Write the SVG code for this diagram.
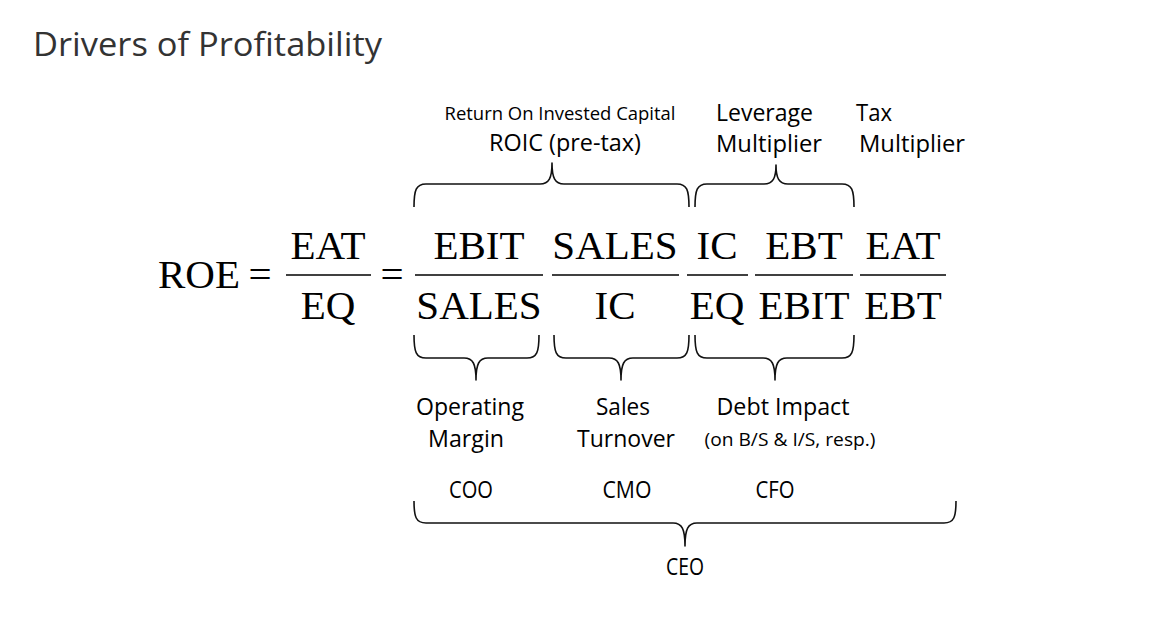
<svg xmlns="http://www.w3.org/2000/svg" width="1161" height="621" viewBox="0 0 1161 621">
  <style>
    .title { font-family: "Open Sans", "Noto Sans", sans-serif; font-size: 32px; fill: #333; }
    .math { font-family: "Liberation Serif", "Times New Roman", serif; font-size: 41px; fill: #000; text-anchor: middle; }
    .lbl { font-family: "Open Sans", "Noto Sans", sans-serif; font-size: 23px; fill: #000; }
    .sm { font-family: "Open Sans", "Noto Sans", sans-serif; font-size: 18px; fill: #000; }
    .mid { text-anchor: middle; }
    .bar { stroke: #000; stroke-width: 1.6; fill: none; }
    .brace { stroke: #111; stroke-width: 1.6; fill: none; stroke-linejoin: round; }
  </style>
  <rect width="1161" height="621" fill="#fff"/>

  <text class="title" x="33" y="56" textLength="349" lengthAdjust="spacingAndGlyphs">Drivers of Profitability</text>

  <!-- equation -->
  <g id="equation">
    <text class="math" x="199" y="288">ROE</text>
    <text class="math" x="260" y="288">=</text>
    <g id="frac-eat-eq">
      <text class="math" x="328" y="259">EAT</text>
      <line class="bar" x1="286" y1="275" x2="371" y2="275"/>
      <text class="math" x="328" y="319">EQ</text>
    </g>
    <text class="math" x="392" y="288">=</text>
    <g id="frac-ebit-sales">
      <text class="math" x="479" y="259">EBIT</text>
      <line class="bar" x1="415" y1="275" x2="543" y2="275"/>
      <text class="math" x="479" y="319">SALES</text>
    </g>
    <g id="frac-sales-ic">
      <text class="math" x="615" y="259">SALES</text>
      <line class="bar" x1="552" y1="275" x2="679" y2="275"/>
      <text class="math" x="615" y="319">IC</text>
    </g>
    <g id="frac-ic-eq">
      <text class="math" x="717" y="259">IC</text>
      <line class="bar" x1="687" y1="275" x2="748" y2="275"/>
      <text class="math" x="717" y="319">EQ</text>
    </g>
    <g id="frac-ebt-ebit">
      <text class="math" x="804" y="259">EBT</text>
      <line class="bar" x1="755" y1="275" x2="853" y2="275"/>
      <text class="math" x="804" y="319">EBIT</text>
    </g>
    <g id="frac-eat-ebt">
      <text class="math" x="903" y="259">EAT</text>
      <line class="bar" x1="860" y1="275" x2="946" y2="275"/>
      <text class="math" x="903" y="319">EBT</text>
    </g>
  </g>

  <!-- braces -->
  <g id="connectors">
    <path class="brace" d="M414,207 C414,190 416,184 426,184 H540 C549,184 552,178 552,163 C552,178 555,184 564,184 H677 C687,184 689,190 689,207"/>
    <path class="brace" d="M695,207 C695,190 697,184 707,184 H764 C773,184 776,178 776,165 C776,178 779,184 788,184 H842 C852,184 854,190 854,207"/>
    <path class="brace" d="M414,335 C414,352 416,358 426,358 H464 C473,358 476,364 476,380 C476,364 479,358 488,358 H527 C537,358 539,352 539,335"/>
    <path class="brace" d="M554,335 C554,352 556,358 566,358 H609 C618,358 621,364 621,380 C621,364 624,358 633,358 H677 C687,358 689,352 689,335"/>
    <path class="brace" d="M695,335 C695,352 697,358 707,358 H763 C772,358 775,364 775,380 C775,364 778,358 787,358 H842 C852,358 854,352 854,335"/>
    <path class="brace" d="M414,501 C414,517 416,523 426,523 H673 C682,523 685,529 685,546 C685,529 688,523 697,523 H944 C954,523 956,517 956,501"/>
  </g>

  <g id="roic">
    <text class="sm mid" x="560" y="120" textLength="231" lengthAdjust="spacingAndGlyphs">Return On Invested Capital</text>
    <text class="lbl mid" x="565" y="151" textLength="152" lengthAdjust="spacingAndGlyphs">ROIC (pre-tax)</text>
  </g>
  <g id="leverage">
    <text class="lbl" x="716" y="121" textLength="97" lengthAdjust="spacingAndGlyphs">Leverage</text>
    <text class="lbl" x="716" y="152" textLength="106" lengthAdjust="spacingAndGlyphs">Multiplier</text>
  </g>
  <g id="tax">
    <text class="lbl" x="856" y="121" textLength="36" lengthAdjust="spacingAndGlyphs">Tax</text>
    <text class="lbl" x="859" y="152" textLength="106" lengthAdjust="spacingAndGlyphs">Multiplier</text>
  </g>
  <g id="operating-margin">
    <text class="lbl mid" x="470" y="415" textLength="108" lengthAdjust="spacingAndGlyphs">Operating</text>
    <text class="lbl mid" x="466" y="447" textLength="76" lengthAdjust="spacingAndGlyphs">Margin</text>
  </g>
  <g id="sales-turnover">
    <text class="lbl mid" x="623" y="415" textLength="54" lengthAdjust="spacingAndGlyphs">Sales</text>
    <text class="lbl mid" x="626" y="447" textLength="98" lengthAdjust="spacingAndGlyphs">Turnover</text>
  </g>
  <g id="debt-impact">
    <text class="lbl mid" x="783" y="415" textLength="133" lengthAdjust="spacingAndGlyphs">Debt Impact</text>
    <text class="sm mid" x="790" y="446" textLength="171" lengthAdjust="spacingAndGlyphs">(on B/S &amp; I/S, resp.)</text>
  </g>
  <g id="coo"><text class="lbl mid" x="471" y="498" font-size="19" textLength="44" lengthAdjust="spacingAndGlyphs">COO</text></g>
  <g id="cmo"><text class="lbl mid" x="627" y="498" font-size="19" textLength="49" lengthAdjust="spacingAndGlyphs">CMO</text></g>
  <g id="cfo"><text class="lbl mid" x="775" y="498" font-size="19" textLength="39" lengthAdjust="spacingAndGlyphs">CFO</text></g>
  <g id="ceo"><text class="lbl mid" x="685" y="575" font-size="19" textLength="38" lengthAdjust="spacingAndGlyphs">CEO</text></g>
</svg>
